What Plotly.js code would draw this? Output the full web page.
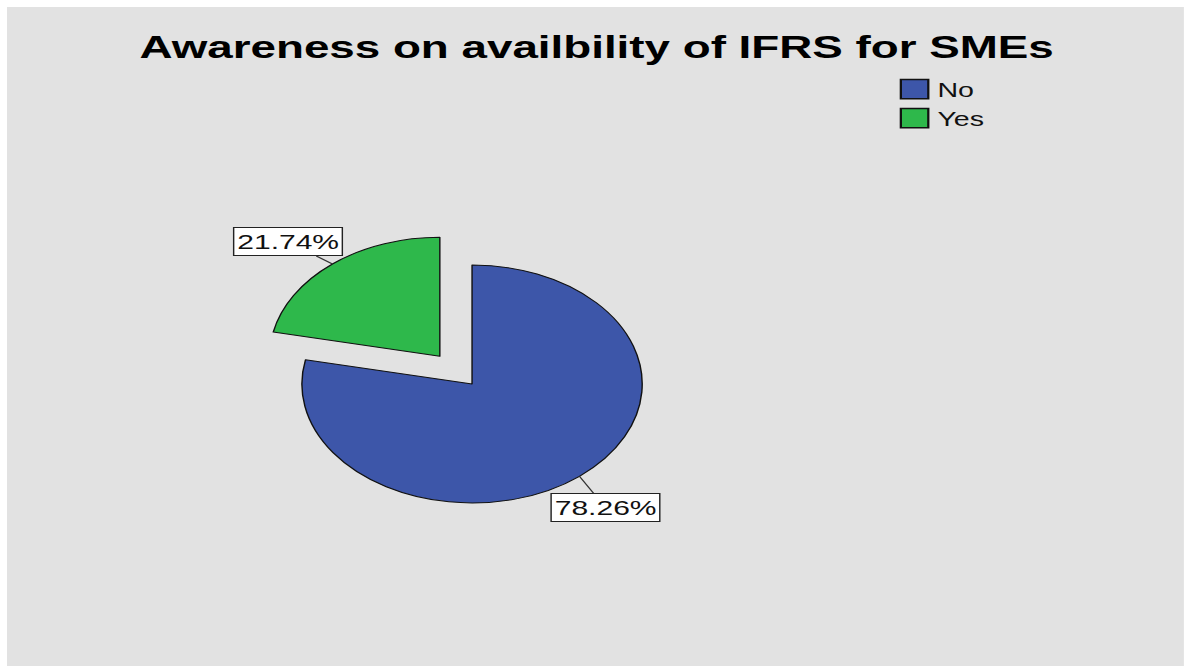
<!DOCTYPE html>
<html>
<head>
<meta charset="utf-8">
<script src="https://cdn.plot.ly/plotly-3.0.1.min.js"></script>
<style>
  html, body { margin: 0; padding: 0; background: #ffffff; overflow: hidden; }
  /* the reference image is stretched sideways, so we draw narrow and stretch the whole chart */
  #pieChart {
    position: absolute; left: 7px; top: 7px;
    width: 823px; height: 659px;
    transform: scaleX(1.43); transform-origin: 0 0;
  }
</style>
</head>
<body>
<div id="pieChart"></div>
<script>
document.addEventListener('DOMContentLoaded', () => {

    const chartTitle = 'Awareness on availbility of IFRS for SMEs';
    const labels = ['No', 'Yes'];
    const values = [78.26, 21.74]; // percent of respondents

    const W = 823, H = 659;
    const dom = {x: [0.2072, 0.5831], y: [0.1932, 0.6627]};
    const pulls = labels.map(l => (l === 'Yes' ? 0.3 : 0));

    // same geometry plotly uses for the pie, to hang the boxed labels on
    const maxPull = Math.max(...pulls);
    const r = Math.min(W * (dom.x[1] - dom.x[0]), H * (dom.y[1] - dom.y[0])) / 2 / (1 + maxPull);
    const cx = W * (dom.x[0] + dom.x[1]) / 2;
    const cy = H * (1 - (dom.y[0] + dom.y[1]) / 2);
    const total = values.reduce((a, b) => a + b, 0);

    const labelShift = {No: [18, 31], Yes: [-31, -22]};

    let cum = 0;
    const annotations = labels.map((lab, i) => {
        const mid = (90 - 360 * (cum + values[i] / 2) / total) * Math.PI / 180;
        cum += values[i];
        const dx = Math.cos(mid), dy = -Math.sin(mid);
        const px = cx + dx * r * (1 + pulls[i]);
        const py = cy + dy * r * (1 + pulls[i]);
        return {
            x: px / W, y: 1 - py / H, xref: 'paper', yref: 'paper',
            text: (values[i] / total * 100).toFixed(2) + '%',
            showarrow: true, arrowhead: 0, arrowwidth: 1, arrowcolor: '#333',
            standoff: 0,
            ax: labelShift[lab][0], ay: labelShift[lab][1],
            bgcolor: '#ffffff', bordercolor: '#222', borderwidth: 1, borderpad: 2,
            font: {family: 'Liberation Sans, Arial, sans-serif', size: 21, color: '#111'}
        };
    });

    let pie = {
        type: 'pie',
        labels: labels,
        values: values,
        sort: false,
        direction: 'clockwise',
        rotation: 0,
        pull: pulls,
        textinfo: 'none',
        hoverinfo: 'label+percent',
        domain: dom,
        marker: {
            colors: ['#3d56a9', '#2eb84b'],
            line: {color: '#111', width: 1}
        }
    };

    let layout = {
        width: W,
        height: H,
        margin: {l: 0, r: 0, t: 0, b: 0},
        paper_bgcolor: '#e2e2e2',
        title: {
            text: '<b>' + chartTitle + '</b>',
            x: 0.501, xref: 'paper', xanchor: 'center',
            y: 0.94, yref: 'container', yanchor: 'middle',
            font: {family: 'Liberation Sans, Arial, sans-serif', size: 32, color: '#000'}
        },
        showlegend: true,
        legend: {
            x: 0.742, xanchor: 'left',
            y: 0.905, yanchor: 'top',
            bgcolor: 'rgba(0,0,0,0)',
            font: {family: 'Liberation Sans, Arial, sans-serif', size: 20, color: '#111'}
        },
        annotations: annotations
    };

    Plotly.newPlot('pieChart', [pie], layout, {displayModeBar: false, staticPlot: true}).then(gd => {
        // bigger legend squares like the original
        gd.querySelectorAll('.legend .legendpoints path').forEach(p => {
            p.setAttribute('transform', 'translate(24,0) scale(1.6)');
        });
    });
});
</script>
</body>
</html>
